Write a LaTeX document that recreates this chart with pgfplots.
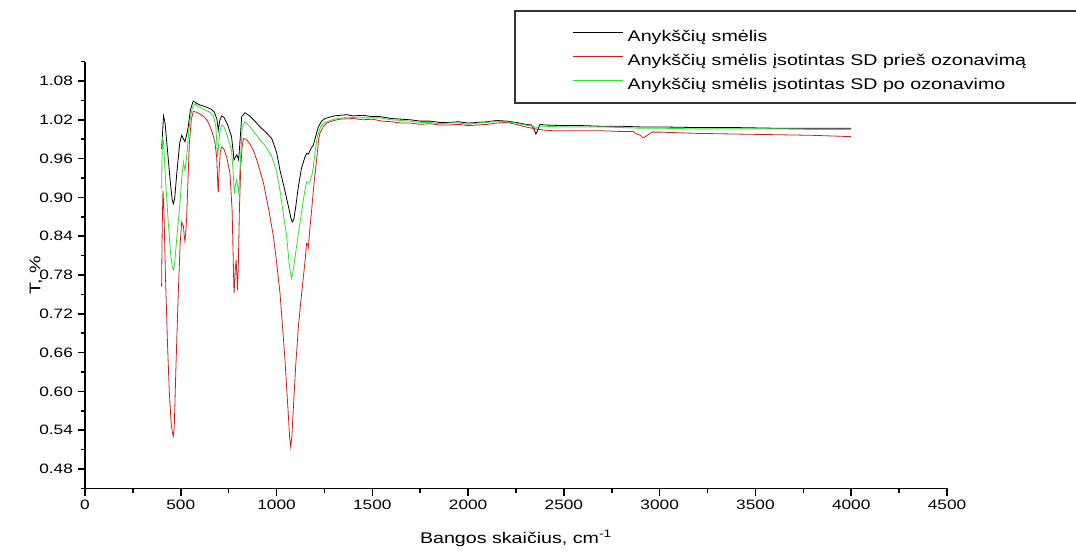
\documentclass[border=0pt]{standalone}
\usepackage{pgfplots}
\pgfplotsset{compat=1.18}
\usepackage{fontspec}
\setmainfont{Liberation Sans}[FakeStretch=1.27]
\definecolor{spred}{RGB}{205,30,30}
\definecolor{spgreen}{RGB}{45,225,45}

% FTIR spectra (transmittance vs wavenumber)
\pgfplotstableread{
x y
400 0.975
404 0.995
410 1.026
418 1.015
430 0.975
445 0.925
455 0.897
461 0.890
468 0.898
480 0.940
495 0.985
505 0.996
515 0.990
522 0.986
530 0.996
539 1.009
550 1.035
565 1.049
580 1.046
600 1.043
620 1.041
640 1.039
660 1.036
675 1.032
688 1.022
696 1.004
703 1.018
713 1.026
725 1.024
745 1.012
765 0.994
772 0.975
778 0.958
785 0.962
792 0.966
798 0.962
802 0.958
810 0.990
818 1.025
835 1.031
860 1.026
890 1.017
914 1.009
940 1.002
975 0.991
1000 0.970
1018 0.942
1040 0.915
1062 0.886
1075 0.868
1082 0.862
1090 0.866
1100 0.885
1114 0.917
1130 0.945
1149 0.963
1158 0.968
1166 0.967
1180 0.976
1192 0.981
1205 0.995
1218 1.009
1235 1.018
1253 1.022
1300 1.026
1366 1.028
1400 1.026
1450 1.027
1500 1.025
1540 1.025
1600 1.022
1650 1.021
1700 1.020
1750 1.018
1800 1.018
1850 1.016
1900 1.016
1950 1.017
2000 1.015
2050 1.016
2100 1.017
2150 1.019
2200 1.018
2250 1.016
2300 1.013
2330 1.012
2345 1.005
2354 0.998
2362 1.003
2375 1.013
2400 1.012
2500 1.011
2600 1.011
2700 1.010
2800 1.010
2900 1.009
3000 1.009
3200 1.008
3400 1.008
3600 1.007
3800 1.007
4000 1.007
}\sandA

\pgfplotstableread{
x y
400 0.762
403 0.850
407 0.911
412 0.880
420 0.780
430 0.680
440 0.600
450 0.550
457 0.535
461 0.531
466 0.545
475 0.640
487 0.752
497 0.830
505 0.862
510 0.858
514 0.856
518 0.840
522 0.832
527 0.850
531 0.870
538 0.930
545 0.984
555 1.020
565 1.033
580 1.032
600 1.029
620 1.025
636 1.020
650 1.012
665 1.000
679 0.984
688 0.960
694 0.915
696 0.908
700 0.940
706 0.970
713 0.978
725 0.975
740 0.962
757 0.937
768 0.880
775 0.790
778 0.752
782 0.770
785 0.790
789 0.803
793 0.780
796 0.757
800 0.790
806 0.880
813 0.947
820 0.978
827 0.991
840 0.990
860 0.983
879 0.973
900 0.955
932 0.922
960 0.880
984 0.839
1000 0.800
1018 0.752
1030 0.705
1044 0.649
1055 0.595
1062 0.561
1068 0.530
1074 0.514
1080 0.530
1088 0.576
1100 0.640
1114 0.700
1127 0.740
1140 0.777
1150 0.805
1157 0.829
1162 0.828
1166 0.823
1172 0.845
1183 0.880
1195 0.920
1209 0.958
1220 0.990
1227 1.000
1245 1.010
1262 1.015
1300 1.019
1331 1.021
1400 1.022
1450 1.020
1500 1.021
1550 1.018
1600 1.017
1650 1.015
1700 1.015
1750 1.013
1800 1.014
1850 1.012
1900 1.012
1950 1.013
2000 1.011
2050 1.012
2100 1.013
2150 1.015
2200 1.016
2250 1.013
2300 1.009
2350 1.006
2400 1.004
2450 1.003
2500 1.003
2600 1.003
2700 1.003
2800 1.002
2860 1.002
2880 0.998
2900 0.996
2913 0.992
2925 0.994
2940 0.997
2960 1.001
3000 1.001
3200 0.999
3400 0.998
3600 0.997
3800 0.996
4000 0.994
}\sandB

\pgfplotstableread{
x y
400 0.914
402 0.960
405 0.994
410 0.985
420 0.930
435 0.860
448 0.810
456 0.792
461 0.788
467 0.795
480 0.840
496 0.891
505 0.930
514 0.955
518 0.948
522 0.942
528 0.955
534 0.973
541 1.000
548 1.020
560 1.038
574 1.045
590 1.041
610 1.038
630 1.035
650 1.032
670 1.027
683 1.010
688 0.985
692 0.963
696 0.975
703 1.000
713 1.012
725 1.010
745 0.993
765 0.973
772 0.945
780 0.906
786 0.920
792 0.927
797 0.918
802 0.906
810 0.950
821 1.009
835 1.017
860 1.010
890 0.998
914 0.989
940 0.980
975 0.963
1000 0.940
1018 0.911
1035 0.875
1053 0.839
1065 0.800
1072 0.785
1079 0.775
1086 0.785
1100 0.815
1114 0.844
1128 0.872
1140 0.896
1150 0.915
1157 0.924
1165 0.922
1175 0.925
1185 0.935
1192 0.947
1202 0.972
1213 0.994
1228 1.008
1244 1.015
1300 1.021
1366 1.024
1450 1.023
1540 1.023
1600 1.020
1650 1.019
1700 1.018
1750 1.016
1800 1.016
1850 1.014
1900 1.015
1950 1.015
2000 1.013
2050 1.015
2100 1.016
2150 1.018
2200 1.017
2250 1.015
2300 1.012
2340 1.010
2354 1.007
2370 1.010
2400 1.010
2500 1.009
2600 1.009
2700 1.009
2800 1.008
2900 1.007
3000 1.007
3200 1.006
3400 1.006
3600 1.006
3800 1.005
4000 1.005
}\sandC

\begin{document}
\begin{tikzpicture}
\begin{axis}[
  scale only axis,
  width=646.5pt, height=320.1pt,
  xmin=0, xmax=4500, ymin=0.45, ymax=1.11,
  axis lines=left,
  axis line style={-, line width=1.2pt},
  clip=false,
  xtick={0,500,1000,1500,2000,2500,3000,3500,4000,4500},
  minor xtick={250,750,1250,1750,2250,2750,3250,3750,4250},
  ytick={0.48,0.54,0.60,0.66,0.72,0.78,0.84,0.90,0.96,1.02,1.08},
  minor ytick={0.45,0.51,0.57,0.63,0.69,0.75,0.81,0.87,0.93,0.99,1.05,1.11},
  tick align=outside,
  major tick length=5.5pt, minor tick length=3.2pt,
  every tick/.style={black, line width=1.2pt},
  /pgf/number format/assume math mode=true,
  yticklabel style={/pgf/number format/.cd, fixed, fixed zerofill, precision=2},
  xticklabel style={/pgf/number format/.cd, set thousands separator={}},
  ticklabel style={font=\fontsize{10.2}{12}\selectfont},
  xlabel={Bangos skaičius, cm\textsuperscript{-1}},
  ylabel={T, \%},
  xlabel style={at={(axis description cs:0.5,-0.118)}, anchor=center, font=\fontsize{11.6}{13}\selectfont},
  ylabel style={at={(axis description cs:-0.0568,0.5)}, anchor=center, font=\fontsize{11.6}{13}\selectfont},
  legend style={draw=none, fill=none, at={(axis cs:2542,1.160)}, anchor=north west,
    inner sep=0pt, row sep=6.8pt, column sep=3.5pt,
    font=\fontsize{11.6}{13}\selectfont,
    nodes={inner sep=0pt, text height=8.6pt, text depth=2.6pt}},
  legend cell align=left,
  legend image code/.code={\draw[#1] (0pt,3.4pt) -- (37.5pt,3.4pt);},
]
\addplot[black, line width=0.6pt] table[x=x,y=y] {\sandA};
\addlegendentry{Anykščių smėlis}
\addplot[spred, line width=0.6pt] table[x=x,y=y] {\sandB};
\addlegendentry{Anykščių smėlis įsotintas SD prieš ozonavimą}
\addplot[spgreen, line width=0.6pt] table[x=x,y=y] {\sandC};
\addlegendentry{Anykščių smėlis įsotintas SD po ozonavimo}

% legend frame and page extent
\draw[line width=0.9pt, black!80] (axis cs:2244.8,1.046) rectangle (axis cs:5400,1.1882);
\coordinate (bbSW) at (axis cs:-443.7,0.3486);
\coordinate (bbNE) at (axis cs:5173.4,1.2053);
\end{axis}
\pgfresetboundingbox
\path[use as bounding box] (bbSW) rectangle (bbNE);
\end{tikzpicture}
\end{document}
